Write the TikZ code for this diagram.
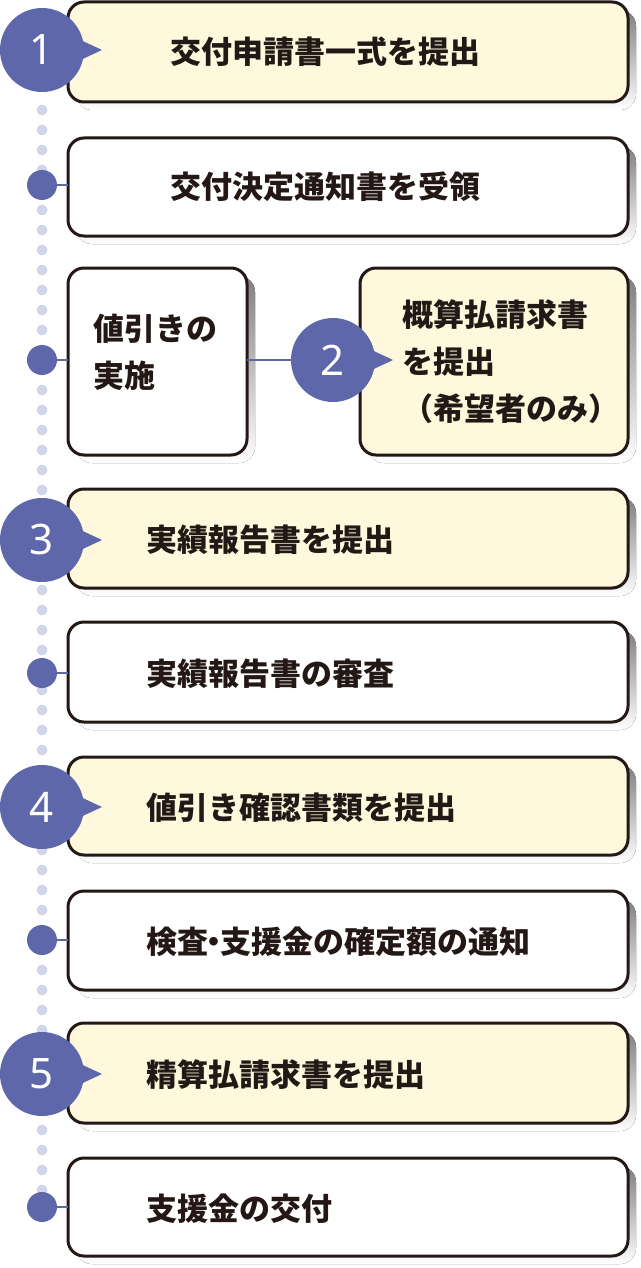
\documentclass[tikz,border=0pt]{standalone}
\usepackage{fontspec}
\newfontfamily\jp{Noto Sans CJK JP}
\newfontfamily\num{Noto Sans}
\definecolor{ink}{HTML}{231815}
\definecolor{cream}{HTML}{FFF8DC}
\definecolor{shade}{HTML}{CDD9EA}
\definecolor{navy}{HTML}{5F67AB}
\definecolor{pale}{HTML}{D2D4E8}
\begin{document}
\begin{tikzpicture}[x=1pt,y=-1pt,
  box/.style={draw=ink,line width=3pt,rounded corners=16pt},
  txt/.style={anchor=west,font=\jp\bfseries\fontsize{31}{47}\selectfont,text=ink,inner sep=0pt},
  bignum/.style={circle,fill=navy,minimum size=84pt,inner sep=0pt,text=white,font=\num\bfseries\fontsize{42}{42}\selectfont},
  smalldot/.style={circle,fill=navy,minimum size=30pt,inner sep=0pt}]
\useasboundingbox (0,0) rectangle (640,1268);
\foreach \y in {110,130,...,1190} \fill[pale] (42,\y) circle (5.5pt);
\newcommand\mybox[5]{%
  \fill[shade,rounded corners=16pt] (#1+8,#2+8) rectangle (#3+8,#4+8);
  \filldraw[box,fill=#5] (#1,#2) rectangle (#3,#4);}
\mybox{68}{2}{628}{102}{cream}
\mybox{68}{138}{628}{236}{white}
\mybox{68}{268}{247}{455}{white}
\mybox{360}{268}{628}{455}{cream}
\mybox{68}{489}{628}{588}{cream}
\mybox{68}{622}{628}{722}{white}
\mybox{68}{757}{628}{855}{cream}
\mybox{68}{891}{628}{990}{white}
\mybox{68}{1023}{628}{1123}{cream}
\mybox{68}{1158}{628}{1256}{white}
\node[txt] (t1) at (170,52) {交付申請書一式を提出};
\node[txt] (t2) at (170,187) {交付決定通知書を受領};
\node[txt,align=left,anchor=north west] (t3) at (93,314) {値引きの\\実施};
\node[txt,align=left,anchor=north west] (t4) at (402,299) {概算払請求書\\を提出\\（希望者のみ）};
\node[txt] (t5) at (146,540) {実績報告書を提出};
\node[txt] (t6) at (146,674) {実績報告書の審査};
\node[txt] (t7) at (146,808) {値引き確認書類を提出};
\node[txt] (t8) at (146,942) {検査\hspace{-0.3em}・\hspace{-0.3em}支援金の確定額の通知};
\node[txt] (t9) at (146,1075) {精算払請求書を提出};
\node[txt] (t10) at (146,1209) {支援金の交付};
\foreach \n/\y in {d2/185,d3/360,d5/673,d7/940,d9/1207}{
  \draw[navy,line width=2pt] (42,\y) -- (68,\y);
  \node[smalldot] (\n) at (42,\y) {};}
\draw[navy,line width=2pt] (247,360) -- (300,360);
\foreach \n/\x/\y/\l in {c1/42/50/1,c2/333/360/2,c3/42/540/3,c4/42/807/4,c5/42/1074/5}{
  \fill[navy] (\x+30,\y-14) -- (\x+60,\y) -- (\x+30,\y+14) -- cycle;
  \node[bignum] (\n) at (\x,\y) {\l};}
\end{tikzpicture}
\end{document}
